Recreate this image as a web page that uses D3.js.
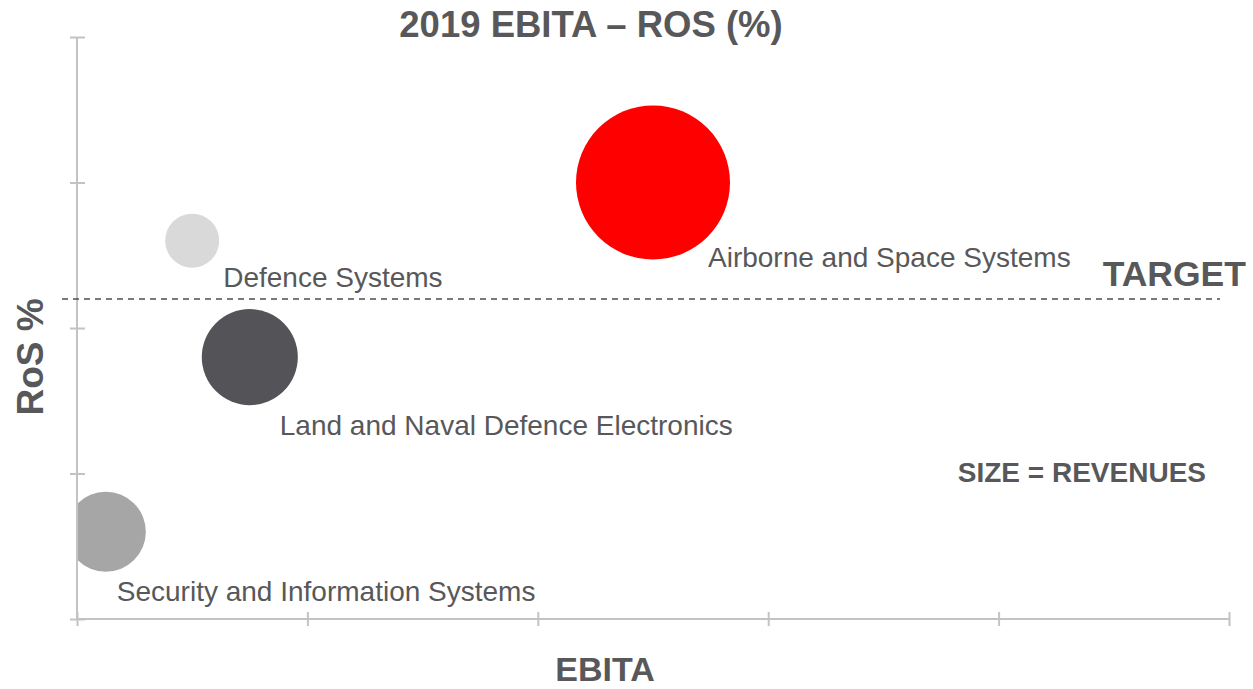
<!DOCTYPE html>
<html>
<head>
<meta charset="utf-8">
<script src="https://cdn.jsdelivr.net/npm/d3@7"></script>
<style>
  body { margin: 0; background: #fff; }
  svg text { font-family: "Liberation Sans", Arial, sans-serif; fill: #58585a; }
</style>
</head>
<body>
<div id="chart"></div>
<script>
// divisions (unlabelled axes)
var segments = ["Airborne and Space Systems", "Defence Systems", "Land and Naval Defence Electronics", "Security and Information Systems"];
var ebita = [2.5, 0.5, 0.75, 0.125];
var ros = [3.0, 2.6, 1.8, 0.6];
var revenues = [3700, 455, 1440, 1000];
var target = 2.2;
var xTicks = [0, 1, 2, 3, 4, 5];
var yTicks = [0, 1, 2, 3, 4];

var colors = ["#ff0000", "#d9d9d9", "#545458", "#a6a6a6"];
var labelOffsets = [[55, 84], [31, 46], [30, 78], [11, 69]];

var margin = {top: 37, right: 24, bottom: 70, left: 77};
var width = 1253 - margin.left - margin.right;
var height = 689 - margin.top - margin.bottom;

var svgRoot = d3.select("#chart")
    .append("svg")
    .attr("width", 1253)
    .attr("height", 689);

var svg = svgRoot.append("g")
    .attr("transform", `translate(${margin.left},${margin.top})`);

var x = d3.scaleLinear().domain([0, 5]).range([0, width]);
var y = d3.scaleLinear().domain([0, 4]).range([height, 0]);
var r = d3.scaleSqrt().domain([0, d3.max(revenues)]).range([0, 77]);

svg.append("clipPath")
    .attr("id", "plot")
    .append("rect")
    .attr("width", width)
    .attr("height", height);

var data = segments.map((s, i) => ({name: s, ebita: ebita[i], ros: ros[i], rev: revenues[i], color: colors[i], off: labelOffsets[i]}));

// bubbles
svg.append("g")
    .attr("clip-path", "url(#plot)")
    .selectAll("circle")
    .data(data)
    .enter()
    .append("circle")
    .attr("cx", d => x(d.ebita))
    .attr("cy", d => y(d.ros))
    .attr("r", d => r(d.rev))
    .style("fill", d => d.color);

// axes
var axes = svg.append("g");
var xAxis = axes.append("g")
    .attr("transform", `translate(0,${height})`)
    .call(d3.axisBottom(x).tickValues(xTicks).tickSize(7).tickFormat(""));
xAxis.selectAll(".tick line").attr("y1", -7);

var yAxis = axes.append("g")
    .call(d3.axisLeft(y).tickValues(yTicks).tickSize(7).tickFormat(""));
yAxis.selectAll(".tick line").attr("x1", 8);

axes.selectAll(".domain").remove();
axes.append("line").attr("x1", 0).attr("x2", width).attr("y1", height).attr("y2", height);
axes.append("line").attr("x1", 0).attr("x2", 0).attr("y1", 0).attr("y2", height);
axes.selectAll("line")
    .attr("stroke", "#c3c3c3")
    .attr("stroke-width", 2);

svg.selectAll(null).data(data).enter()
    .append("text")
    .attr("x", d => x(d.ebita) + d.off[0])
    .attr("y", d => y(d.ros) + d.off[1])
    .attr("font-size", "28px")
    .text(d => d.name);

// target line
svg.append("line")
    .attr("x1", -15)
    .attr("x2", width - 9)
    .attr("y1", y(target))
    .attr("y2", y(target))
    .attr("stroke", "#4d4d4d")
    .attr("stroke-width", 1.5)
    .attr("stroke-dasharray", "6,5");

svg.append("text")
    .attr("x", width + 17)
    .attr("y", y(target) - 13)
    .attr("text-anchor", "end")
    .attr("font-size", "35.5px")
    .attr("font-weight", "bold")
    .text("TARGET");

svg.append("text")
    .attr("x", width - 23)
    .attr("y", 445)
    .attr("text-anchor", "end")
    .attr("font-size", "28px")
    .attr("font-weight", "bold")
    .text("SIZE = REVENUES");

// titles
svgRoot.append("text")
    .attr("x", 591)
    .attr("y", 37)
    .attr("text-anchor", "middle")
    .attr("font-size", "36.5px")
    .attr("font-weight", "bold")
    .text("2019 EBITA \u2013 ROS (%)");

svgRoot.append("text")
    .attr("x", 605)
    .attr("y", 681)
    .attr("text-anchor", "middle")
    .attr("font-size", "34px")
    .attr("font-weight", "bold")
    .text("EBITA");

svgRoot.append("text")
    .attr("transform", "rotate(-90)")
    .attr("x", -357)
    .attr("y", 43)
    .attr("text-anchor", "middle")
    .attr("font-size", "37px")
    .attr("font-weight", "bold")
    .text("RoS %");
</script>
</body>
</html>
